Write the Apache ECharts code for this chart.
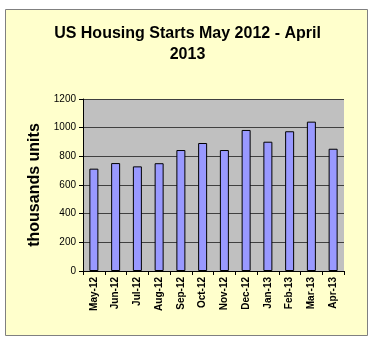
<!DOCTYPE html>
<html>
<head>
<meta charset="utf-8">
<script src="https://cdn.jsdelivr.net/npm/echarts@6/dist/echarts.min.js"></script>
<style>
  html, body { margin: 0; padding: 0; background: #ffffff; }
  #chart { width: 375px; height: 344px; }
</style>
</head>
<body>
<div id="chart"></div>
<script>
// Monthly US housing starts, thousands of units (annualised)
const months = ['May-12', 'Jun-12', 'Jul-12', 'Aug-12', 'Sep-12', 'Oct-12',
                'Nov-12', 'Dec-12', 'Jan-13', 'Feb-13', 'Mar-13', 'Apr-13'];
const starts = [714, 753, 730, 752, 844, 893, 844, 984, 902, 975, 1042, 853];
const yTicks = [0, 200, 400, 600, 800, 1000, 1200];

const chart = echarts.init(document.getElementById('chart'), null, { renderer: 'canvas' });

chart.setOption({
  backgroundColor: '#ffffff',
  animation: false,
  graphic: [{
    type: 'rect',
    shape: { x: 5.5, y: 9.5, width: 362, height: 326 },
    style: { fill: '#FFFFCC', stroke: '#808080', lineWidth: 1 },
    z: -10
  }],
  title: {
    text: 'US Housing Starts May 2012 - April\n2013',
    left: 'center',
    top: 18,
    textStyle: {
      fontFamily: 'Liberation Sans, Arial, sans-serif',
      fontWeight: 'bold',
      fontSize: 16,
      lineHeight: 21,
      color: '#000000'
    }
  },
  grid: {
    left: 83,
    right: 31,
    top: 99,
    bottom: 73,
    show: true,
    backgroundColor: '#C0C0C0',
    borderWidth: 0
  },
  xAxis: {
    type: 'category',
    data: months,
    axisLine: { show: true, lineStyle: { color: '#000000', width: 1 } },
    axisTick: { show: true, length: 4, lineStyle: { color: '#000000' } },
    axisLabel: {
      rotate: 90,
      margin: 6,
      fontFamily: 'Liberation Sans, Arial, sans-serif',
      fontSize: 10,
      fontWeight: 'bold',
      color: '#000000'
    }
  },
  yAxis: {
    type: 'value',
    min: yTicks[0],
    max: yTicks[yTicks.length - 1],
    interval: yTicks[1] - yTicks[0],
    name: 'thousands units',
    nameLocation: 'middle',
    nameGap: 40,
    nameTextStyle: {
      fontFamily: 'Liberation Sans, Arial, sans-serif',
      fontWeight: 'bold',
      fontSize: 16,
      color: '#000000'
    },
    axisLine: { show: true, lineStyle: { color: '#000000', width: 1 } },
    axisTick: { show: true, length: 4, lineStyle: { color: '#000000' } },
    axisLabel: {
      margin: 7,
      formatter: (v) => String(v),
      fontFamily: 'Liberation Sans, Arial, sans-serif',
      fontSize: 10,
      color: '#000000'
    },
    splitLine: { show: true, lineStyle: { color: '#404040', width: 1 } }
  },
  series: [{
    type: 'bar',
    data: starts,
    barWidth: 9,
    itemStyle: {
      color: '#9999FF',
      borderColor: '#000000',
      borderWidth: 1
    }
  }]
});
</script>
</body>
</html>
